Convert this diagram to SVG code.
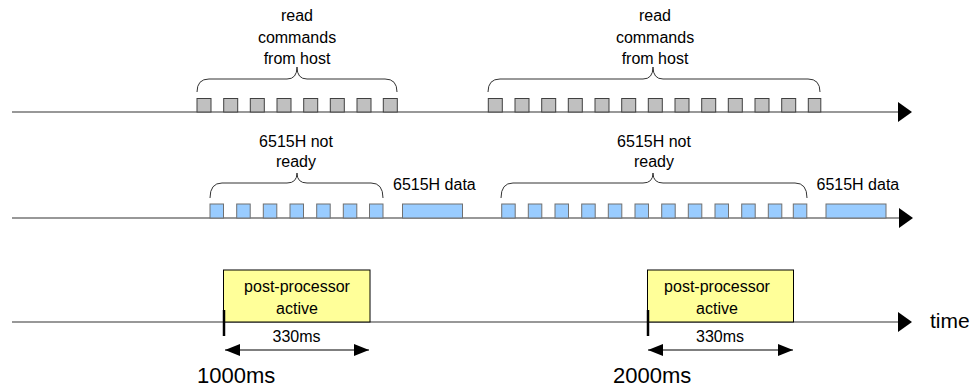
<svg xmlns="http://www.w3.org/2000/svg" width="972" height="387" viewBox="0 0 972 387">
<style>
  text { font-family: "Liberation Sans", Arial, sans-serif; fill: #000; }
  .t16 { font-size: 16px; text-anchor: middle; }
  .t16s { font-size: 16px; }
  .big { font-size: 22px; }
  .axis { stroke: #333; stroke-width: 1.2; fill: none; }
  .cmd { fill: #c0c0c0; stroke: #404040; stroke-width: 1; }
  .rdy { fill: #99ccff; stroke: #707070; stroke-width: 1; }
  .brace { fill: none; stroke: #333; stroke-width: 1; }
  .pp { fill: #ffff99; stroke: #000; stroke-width: 1; }
  .dim { stroke: #000; stroke-width: 1.2; fill: none; }
  .tick { stroke: #000; stroke-width: 2.5; }
</style>
<defs>
  <marker id="axhead" markerWidth="14" markerHeight="20" refX="0" refY="10" orient="auto" markerUnits="userSpaceOnUse">
    <path d="M0,0 L14,10 L0,20 Z" fill="#000"/>
  </marker>
  <marker id="dimhead" markerWidth="15" markerHeight="12" refX="15" refY="6" orient="auto-start-reverse" markerUnits="userSpaceOnUse">
    <path d="M0,0 L15,6 L0,12 Z" fill="#000"/>
  </marker>
</defs>

<g id="connectors">
  <line class="axis" x1="12" y1="112" x2="898" y2="112" marker-end="url(#axhead)"/>
  <line class="axis" x1="12" y1="218" x2="899" y2="218" marker-end="url(#axhead)"/>
  <line class="axis" x1="12" y1="322" x2="898" y2="322" marker-end="url(#axhead)"/>
  <line class="dim" x1="225" y1="350" x2="369" y2="350" marker-start="url(#dimhead)" marker-end="url(#dimhead)"/>
  <line class="dim" x1="648" y1="350" x2="793" y2="350" marker-start="url(#dimhead)" marker-end="url(#dimhead)"/>
</g>

<g id="host-commands-1">
  <rect class="cmd" x="197" y="98.5" width="14" height="13.5"/>
  <rect class="cmd" x="223.7" y="98.5" width="14" height="13.5"/>
  <rect class="cmd" x="250.3" y="98.5" width="14" height="13.5"/>
  <rect class="cmd" x="277" y="98.5" width="14" height="13.5"/>
  <rect class="cmd" x="303.7" y="98.5" width="14" height="13.5"/>
  <rect class="cmd" x="330.3" y="98.5" width="14" height="13.5"/>
  <rect class="cmd" x="357" y="98.5" width="14" height="13.5"/>
  <rect class="cmd" x="383.3" y="98.5" width="14" height="13.5"/>
  <path class="brace" d="M197,92 Q197,79 209,79 L287,79 Q297,79 297,67 Q297,79 307,79 L385,79 Q397,79 397,92"/>
  <text class="t16" x="297" y="21">read</text>
  <text class="t16" x="297" y="42.5">commands</text>
  <text class="t16" x="297" y="63.5">from host</text>
</g>

<g id="host-commands-2">
  <rect class="cmd" x="488.3" y="98.5" width="14" height="13.5"/>
  <rect class="cmd" x="515" y="98.5" width="14" height="13.5"/>
  <rect class="cmd" x="541.7" y="98.5" width="14" height="13.5"/>
  <rect class="cmd" x="568.3" y="98.5" width="14" height="13.5"/>
  <rect class="cmd" x="595" y="98.5" width="14" height="13.5"/>
  <rect class="cmd" x="621.7" y="98.5" width="14" height="13.5"/>
  <rect class="cmd" x="648.3" y="98.5" width="14" height="13.5"/>
  <rect class="cmd" x="675" y="98.5" width="14" height="13.5"/>
  <rect class="cmd" x="701.7" y="98.5" width="14" height="13.5"/>
  <rect class="cmd" x="728.3" y="98.5" width="14" height="13.5"/>
  <rect class="cmd" x="755" y="98.5" width="14" height="13.5"/>
  <rect class="cmd" x="781.7" y="98.5" width="14" height="13.5"/>
  <rect class="cmd" x="808.3" y="98.5" width="12.5" height="13.5"/>
  <path class="brace" d="M488,92 Q488,79 500,79 L643,79 Q653,79 653,67 Q653,79 663,79 L808,79 Q820,79 820,92"/>
  <text class="t16" x="655" y="21">read</text>
  <text class="t16" x="655" y="42.5">commands</text>
  <text class="t16" x="655" y="63.5">from host</text>
</g>

<g id="not-ready-1">
  <rect class="rdy" x="210" y="204" width="13.5" height="14"/>
  <rect class="rdy" x="236.7" y="204" width="13.5" height="14"/>
  <rect class="rdy" x="263.3" y="204" width="13.5" height="14"/>
  <rect class="rdy" x="290" y="204" width="13.5" height="14"/>
  <rect class="rdy" x="316.7" y="204" width="13.5" height="14"/>
  <rect class="rdy" x="343.3" y="204" width="13.5" height="14"/>
  <rect class="rdy" x="369.5" y="204" width="13.5" height="14"/>
  <path class="brace" d="M210,198 Q210,183 222,183 L287,183 Q297,183 297,173 Q297,183 307,183 L371,183 Q383,183 383,198"/>
  <text class="t16" x="296" y="147">6515H not</text>
  <text class="t16" x="296" y="167">ready</text>
</g>

<g id="data-1">
  <rect class="rdy" x="402.5" y="204" width="60" height="14"/>
  <text class="t16s" x="393" y="190">6515H data</text>
</g>

<g id="not-ready-2">
  <rect class="rdy" x="501.7" y="204" width="13.5" height="14"/>
  <rect class="rdy" x="528.3" y="204" width="13.5" height="14"/>
  <rect class="rdy" x="555" y="204" width="13.5" height="14"/>
  <rect class="rdy" x="581.7" y="204" width="13.5" height="14"/>
  <rect class="rdy" x="608.3" y="204" width="13.5" height="14"/>
  <rect class="rdy" x="635" y="204" width="13.5" height="14"/>
  <rect class="rdy" x="661.7" y="204" width="13.5" height="14"/>
  <rect class="rdy" x="688.3" y="204" width="13.5" height="14"/>
  <rect class="rdy" x="715" y="204" width="13.5" height="14"/>
  <rect class="rdy" x="741.7" y="204" width="13.5" height="14"/>
  <rect class="rdy" x="768.3" y="204" width="13.5" height="14"/>
  <rect class="rdy" x="793.3" y="204" width="13.5" height="14"/>
  <path class="brace" d="M501,198 Q501,183 513,183 L643,183 Q653,183 653,173 Q653,183 663,183 L795,183 Q807,183 807,198"/>
  <text class="t16" x="654" y="147">6515H not</text>
  <text class="t16" x="654" y="167">ready</text>
</g>

<g id="data-2">
  <rect class="rdy" x="826" y="204" width="60" height="14"/>
  <text class="t16s" x="816.5" y="190">6515H data</text>
</g>

<g id="post-processor-1">
  <rect class="pp" x="223.5" y="270" width="146.5" height="52"/>
  <text class="t16" x="297" y="291.5">post-processor</text>
  <text class="t16" x="297" y="314">active</text>
  <line class="tick" x1="224" y1="310" x2="224" y2="336"/>
  <text class="t16" x="296.5" y="342">330ms</text>
  <text class="big" x="197" y="383">1000ms</text>
</g>

<g id="post-processor-2">
  <rect class="pp" x="647.5" y="270" width="146" height="52"/>
  <text class="t16" x="717" y="291.5">post-processor</text>
  <text class="t16" x="717" y="314">active</text>
  <line class="tick" x1="648" y1="310" x2="648" y2="336"/>
  <text class="t16" x="720" y="342">330ms</text>
  <text class="big" x="613" y="383">2000ms</text>
</g>

<g id="time-label">
  <text class="big" x="930" y="328" style="font-size:21px">time</text>
</g>
</svg>
